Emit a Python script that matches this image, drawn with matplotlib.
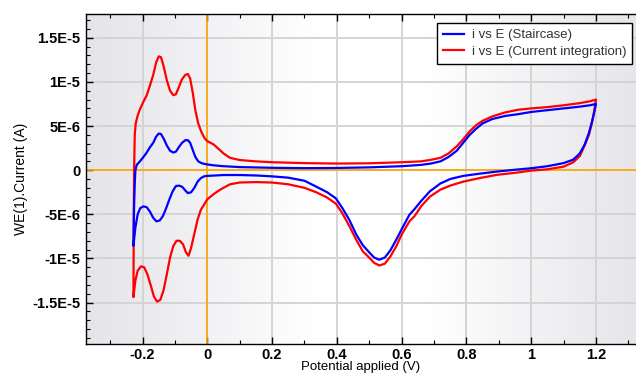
import numpy as np
import matplotlib
matplotlib.use("Agg")
import matplotlib.pyplot as plt
from matplotlib.ticker import MultipleLocator

# ---------------- data (potential in V, current in microampere) ----------------
stair_fwd_E = [-0.228, -0.226, -0.224, -0.222, -0.218, -0.208, -0.197, -0.187, -0.177, -0.167,
               -0.158, -0.150, -0.143, -0.135, -0.125, -0.115, -0.105, -0.097, -0.088, -0.078,
               -0.068, -0.060, -0.053, -0.045, -0.037, -0.028, -0.018, -0.008, 0.0, 0.02,
               0.05, 0.1, 0.2, 0.3, 0.4, 0.5, 0.6, 0.66, 0.69, 0.72,
               0.745, 0.77, 0.79, 0.81, 0.83, 0.85, 0.88, 0.92, 0.96, 1.0,
               1.05, 1.1, 1.15, 1.18, 1.2]
stair_fwd_I = [-8.5, -4.0, -1.5, 0.0, 0.6, 1.0, 1.5, 2.0, 2.6, 3.1,
               3.8, 4.15, 4.1, 3.6, 2.8, 2.2, 2.0, 2.1, 2.6, 3.1,
               3.4, 3.4, 3.1, 2.3, 1.5, 1.0, 0.8, 0.7, 0.65, 0.55,
               0.45, 0.35, 0.27, 0.23, 0.25, 0.32, 0.45, 0.6, 0.75, 1.0,
               1.5, 2.2, 3.1, 4.0, 4.7, 5.3, 5.8, 6.15, 6.35, 6.6,
               6.8, 7.0, 7.2, 7.35, 7.5]
stair_rev_E = [1.2, 1.197, 1.193, 1.187, 1.178, 1.165, 1.15, 1.13, 1.1, 1.05,
               1.0, 0.95, 0.894, 0.84, 0.79, 0.75, 0.72, 0.687, 0.66, 0.64,
               0.624, 0.6, 0.583, 0.565, 0.548, 0.531, 0.515, 0.497, 0.48, 0.46,
               0.438, 0.417, 0.397, 0.37, 0.336, 0.3, 0.25, 0.2, 0.15, 0.1,
               0.05, 0.0, -0.01, -0.02, -0.03, -0.04, -0.05, -0.06, -0.068, -0.077,
               -0.087, -0.097, -0.107, -0.117, -0.127, -0.137, -0.147, -0.157, -0.167, -0.177,
               -0.187, -0.197, -0.207, -0.215, -0.222, -0.228]
stair_rev_I = [7.5, 7.0, 6.3, 5.4, 4.2, 2.9, 1.9, 1.2, 0.8, 0.45,
               0.22, 0.05, -0.16, -0.4, -0.65, -1.0, -1.5, -2.4, -3.5, -4.4,
               -5.05, -6.7, -7.9, -9.1, -9.9, -10.15, -9.9, -9.2, -8.5, -7.3,
               -5.6, -4.3, -3.2, -2.5, -1.86, -1.2, -0.85, -0.7, -0.6, -0.55,
               -0.55, -0.65, -0.7, -0.9, -1.3, -2.0, -2.5, -2.6, -2.3, -1.9,
               -1.75, -1.8, -2.4, -3.3, -4.3, -5.2, -5.7, -5.8, -5.4, -4.7,
               -4.2, -4.1, -4.3, -5.0, -6.5, -8.5]

integ_fwd_E = [-0.228, -0.227, -0.226, -0.224, -0.221, -0.215, -0.208, -0.198, -0.187, -0.177,
               -0.167, -0.158, -0.150, -0.143, -0.135, -0.125, -0.115, -0.105, -0.097, -0.088,
               -0.078, -0.068, -0.060, -0.053, -0.045, -0.037, -0.028, -0.018, -0.008, 0.0,
               0.01, 0.02, 0.035, 0.05, 0.07, 0.1, 0.15, 0.2, 0.3, 0.4,
               0.5, 0.6, 0.66, 0.69, 0.72, 0.745, 0.77, 0.79, 0.81, 0.83,
               0.85, 0.88, 0.92, 0.96, 1.0, 1.05, 1.1, 1.15, 1.18, 1.2]
integ_fwd_I = [-14.3, -5.0, 0.0, 4.0, 5.3, 6.2, 6.9, 7.7, 8.5, 9.6,
               10.8, 12.2, 12.9, 12.8, 11.8, 10.2, 9.0, 8.5, 8.6, 9.4,
               10.3, 10.8, 10.9, 10.4, 8.8, 6.8, 5.3, 4.3, 3.6, 3.3,
               3.1, 2.9, 2.4, 1.9, 1.4, 1.15, 1.0, 0.9, 0.8, 0.75,
               0.78, 0.9, 1.0, 1.17, 1.4, 1.9, 2.7, 3.5, 4.4, 5.1,
               5.6, 6.1, 6.55, 6.85, 7.0, 7.15, 7.35, 7.6, 7.8, 8.0]
integ_rev_E = [1.2, 1.197, 1.193, 1.187, 1.178, 1.165, 1.15, 1.13, 1.1, 1.05,
               1.0, 0.95, 0.894, 0.84, 0.79, 0.75, 0.72, 0.687, 0.66, 0.64,
               0.624, 0.6, 0.583, 0.565, 0.548, 0.531, 0.515, 0.497, 0.48, 0.46,
               0.438, 0.417, 0.397, 0.37, 0.336, 0.3, 0.25, 0.2, 0.15, 0.1,
               0.07, 0.04, 0.02, 0.0, -0.01, -0.02, -0.03, -0.04, -0.05, -0.058,
               -0.066, -0.075, -0.085, -0.095, -0.105, -0.115, -0.125, -0.135, -0.145, -0.155,
               -0.165, -0.175, -0.185, -0.195, -0.205, -0.215, -0.222, -0.228]
integ_rev_I = [8.0, 7.3, 6.4, 5.3, 4.0, 2.8, 1.6, 0.9, 0.4, 0.1,
               -0.05, -0.3, -0.53, -0.9, -1.3, -1.75, -2.2, -3.0, -4.1, -5.2,
               -5.8, -7.3, -8.65, -9.8, -10.6, -10.8, -10.5, -9.8, -9.2, -7.9,
               -6.3, -4.9, -3.8, -3.1, -2.5, -2.0, -1.6, -1.4, -1.35, -1.4,
               -1.6, -2.2, -2.7, -3.3, -3.9, -4.5, -5.6, -7.2, -8.8, -9.7,
               -9.3, -8.4, -8.0, -8.0, -8.6, -9.9, -11.8, -13.6, -14.7, -14.9,
               -14.3, -13.0, -11.8, -11.0, -10.9, -11.4, -12.5, -14.3]

series_labels = ["i vs E (Staircase)", "i vs E (Current integration)"]
x_ticks = [-0.2, 0.0, 0.2, 0.4, 0.6, 0.8, 1.0, 1.2]
x_tick_labels = ["-0.2", "0", "0.2", "0.4", "0.6", "0.8", "1", "1.2"]
y_ticks = [1.5e-5, 1e-5, 5e-6, 0.0, -5e-6, -1e-5, -1.5e-5]
y_tick_labels = ["1.5E-5", "1E-5", "5E-6", "0", "-5E-6", "-1E-5", "-1.5E-5"]

# ---------------- figure ----------------
plt.rcParams['font.family'] = ['Liberation Sans', 'DejaVu Sans']
W, H = 636, 376
fig = plt.figure(figsize=(W / 100, H / 100), dpi=100)
ax = fig.add_axes([86 / W, 1 - 344 / H, (W - 86) / W, (344 - 14) / H])

# background gradient
gx = np.linspace(0, 1, 400)
mix = np.interp(gx, [0.0, 0.42, 0.62, 1.0], [0.0, 1.0, 1.0, 0.05])
grey = np.array([0.895, 0.895, 0.915])
img = grey[None, :] * (1 - mix[:, None]) + 1.0 * mix[:, None]
ax.imshow(img[None, :, :], extent=[0, 1, 0, 1], transform=ax.transAxes,
          aspect='auto', zorder=0, interpolation='bilinear')

ax.set_xlim(-0.3745, 1.3235)
ax.set_ylim(-1.97e-5, 1.77e-5)

# grid
for xt in x_ticks:
    ax.axvline(xt, color='#d4d4d4', lw=1.4, zorder=1)
for yt in y_ticks:
    ax.axhline(yt, color='#d4d4d4', lw=1.4, zorder=1)
ax.axvline(0, color='#FFA500', lw=1.2, zorder=2)
ax.axhline(0, color='#FFA500', lw=1.2, zorder=2)

sc = 1e-6
blue_E = stair_fwd_E + stair_rev_E
blue_I = [v * sc for v in stair_fwd_I + stair_rev_I]
red_E = integ_fwd_E + integ_rev_E
red_I = [v * sc for v in integ_fwd_I + integ_rev_I]
ax.plot(blue_E, blue_I, color='#0000FF', lw=1.6, zorder=4, label=series_labels[0],
        solid_joinstyle='round')
ax.plot(red_E, red_I, color='#FF0000', lw=1.6, zorder=3, label=series_labels[1],
        solid_joinstyle='round')

# ticks
ax.set_xticks(x_ticks)
ax.set_xticklabels(x_tick_labels)
ax.set_yticks(y_ticks)
ax.set_yticklabels(y_tick_labels)
ax.xaxis.set_minor_locator(MultipleLocator(0.1))
ax.yaxis.set_minor_locator(MultipleLocator(1e-6))
ax.tick_params(axis='both', which='major', direction='in', length=5, width=1,
               labelsize=10.5)
ax.tick_params(axis='x', which='major', pad=3)
ax.tick_params(axis='y', which='major', pad=4)
ax.tick_params(axis='both', which='minor', direction='in', length=3, width=0.8)
ax.tick_params(axis='x', which='both', top=True)
for lab in ax.get_xticklabels() + ax.get_yticklabels():
    lab.set_fontweight('bold')
ax.spines['right'].set_visible(False)
for s in ['left', 'bottom', 'top']:
    ax.spines[s].set_linewidth(1.0)
    ax.spines[s].set_color('black')

ax.set_xlabel("Potential applied (V)", fontsize=9.5, labelpad=-1)
ax.set_ylabel("WE(1).Current (A)", fontsize=10, labelpad=3)

leg = ax.legend(loc='upper right', bbox_to_anchor=(632 / W, 1 - 23 / H),
                bbox_transform=fig.transFigure, fontsize=9.5, frameon=True,
                fancybox=False, edgecolor='black', framealpha=1.0,
                borderaxespad=0, handlelength=1.6, handletextpad=0.6,
                borderpad=0.45, labelspacing=0.35)
leg.get_frame().set_linewidth(1.0)
for t in leg.get_texts():
    t.set_color('#333333')

fig.savefig("out.png", dpi=100)
